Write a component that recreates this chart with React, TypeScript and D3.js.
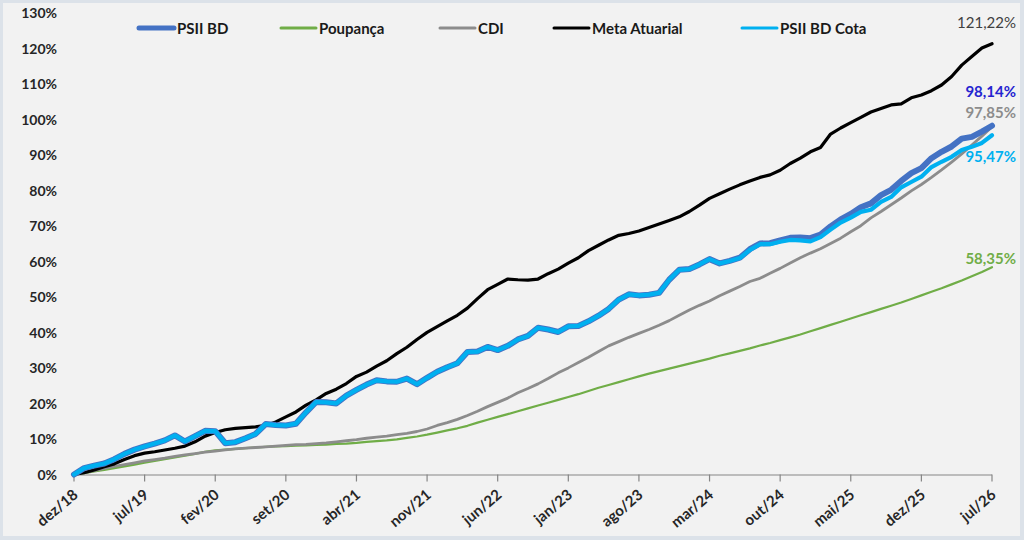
import * as d3 from "d3";
import React from "react";

// monthly accumulated returns (%), dez/18 .. jul/26
const psiiBd = [
  0, 1.8, 2.5, 3.1, 4.3, 5.8, 7.0, 7.9, 8.7, 9.6, 11.0, 9.3, 10.8, 12.3, 12.2, 8.8, 9.1, 10.2, 11.4, 14.2,
  13.9, 13.8, 14.3, 17.5, 20.4, 20.3, 20.0, 22.2, 23.8, 25.3, 26.5, 26.2, 26.1, 27.0, 25.4, 27.2, 28.9, 30.2, 31.3, 34.5,
  34.6, 35.9, 35.0, 36.2, 38.0, 39.0, 41.3, 40.8, 40.1, 41.7, 41.8, 43.1, 44.7, 46.6, 49.2, 50.7, 50.4, 50.6, 51.1, 54.8,
  57.6, 57.8, 59.1, 60.6, 59.4, 60.1, 61.0, 63.4, 65.0, 65.1, 65.9, 66.6, 66.7, 66.5, 67.5, 69.8, 71.8, 73.3, 75.2, 76.3,
  78.6, 80.1, 82.6, 84.8, 86.2, 89.0, 90.8, 92.3, 94.5, 95.0, 96.5, 98.14,
];
const psiiBdCota = [
  0, 1.8, 2.5, 3.1, 4.3, 5.8, 7.0, 7.9, 8.7, 9.6, 11.0, 9.3, 10.8, 12.3, 12.2, 8.8, 9.1, 10.2, 11.4, 14.2,
  13.9, 13.8, 14.3, 17.5, 20.4, 20.3, 20.0, 22.2, 23.8, 25.3, 26.5, 26.2, 26.1, 27.0, 25.4, 27.2, 28.9, 30.2, 31.3, 34.5,
  34.6, 35.9, 35.0, 36.2, 38.0, 39.0, 41.3, 40.8, 40.1, 41.7, 41.8, 43.1, 44.7, 46.6, 49.2, 50.7, 50.4, 50.6, 51.1, 54.8,
  57.6, 57.8, 59.1, 60.6, 59.4, 60.1, 60.9, 63.2, 64.8, 64.8, 65.5, 66.0, 65.9, 65.6, 66.8, 68.9, 70.9, 72.3, 73.9, 74.5,
  76.7, 78.1, 80.8, 82.3, 83.8, 86.5, 88.0, 89.4, 91.3, 92.2, 93.3, 95.47,
];
const poupanca = [
  0, 0.4, 0.9, 1.3, 1.8, 2.3, 2.8, 3.3, 3.8, 4.3, 4.8, 5.3, 5.8, 6.4, 6.8, 7.0, 7.2, 7.4, 7.6, 7.8,
  7.9, 8.0, 8.1, 8.2, 8.3, 8.4, 8.6, 8.7, 8.9, 9.2, 9.4, 9.6, 9.9, 10.3, 10.7, 11.2, 11.8, 12.4, 13.0, 13.7,
  14.6, 15.4, 16.2, 17.0, 17.8, 18.6, 19.4, 20.2, 21.0, 21.8, 22.6, 23.5, 24.4, 25.2, 26.0, 26.8, 27.6, 28.4, 29.1, 29.8,
  30.5, 31.2, 31.9, 32.6, 33.4, 34.1, 34.8, 35.5, 36.3, 37.0, 37.8, 38.6, 39.4, 40.3, 41.2, 42.1, 43.0, 43.9, 44.8, 45.7,
  46.6, 47.5, 48.4, 49.4, 50.4, 51.4, 52.4, 53.5, 54.6, 55.8, 57.0, 58.35,
];
const cdi = [
  0, 0.5, 1.1, 1.7, 2.3, 2.8, 3.3, 3.8, 4.2, 4.6, 5.1, 5.5, 5.9, 6.3, 6.6, 6.9, 7.2, 7.4, 7.6, 7.8,
  8.0, 8.2, 8.4, 8.5, 8.7, 8.9, 9.2, 9.5, 9.8, 10.2, 10.5, 10.8, 11.2, 11.6, 12.1, 12.8, 13.8, 14.6, 15.5, 16.6,
  17.8, 19.1, 20.3, 21.5, 23.0, 24.2, 25.5, 27.0, 28.6, 30.0, 31.5, 33.0, 34.6, 36.2, 37.4, 38.6, 39.7, 40.8, 42.0, 43.3,
  44.8, 46.3, 47.6, 48.8, 50.3, 51.6, 52.9, 54.3, 55.2, 56.6, 58.0, 59.5, 61.0, 62.3, 63.5, 65.0, 66.5, 68.3, 70.0, 72.2,
  74.0, 75.9, 77.8, 79.8, 81.6, 83.6, 85.7, 87.9, 90.2, 92.7, 95.2, 97.85,
];
const metaAtuarial = [
  0, 0.5, 1.3, 2.2, 3.0, 4.2, 5.3, 6.0, 6.4, 6.9, 7.4, 8.0, 9.2, 10.8, 11.8, 12.6, 13.0, 13.2, 13.4, 13.8,
  14.8, 16.2, 17.6, 19.5, 21.0, 22.8, 24.0, 25.6, 27.6, 28.8, 30.5, 32.0, 34.0, 35.8, 38.0, 40.0, 41.6, 43.2, 44.8, 46.8,
  49.5, 52.0, 53.5, 55.0, 54.8, 54.7, 55.0, 56.5, 57.8, 59.5, 61.0, 63.0, 64.5, 66.0, 67.3, 67.8, 68.5, 69.5, 70.5, 71.5,
  72.5, 74.0, 75.8, 77.7, 79.0, 80.3, 81.5, 82.6, 83.6, 84.3, 85.6, 87.5, 89.0, 90.8, 92.0, 95.8, 97.5, 99.0, 100.5, 102.0,
  103.0, 104.0, 104.3, 106.0, 106.8, 108.0, 109.6, 112.0, 115.2, 117.6, 120.0, 121.22,
];

const tickLabels = [
  "dez/18", "jul/19", "fev/20", "set/20", "abr/21", "nov/21", "jun/22",
  "jan/23", "ago/23", "mar/24", "out/24", "mai/25", "dez/25", "jul/26",
];
const yTicks = [0, 10, 20, 30, 40, 50, 60, 70, 80, 90, 100, 110, 120, 130];

const endLabels = [
  { text: "121,22%", color: "#404040", weight: 400, dy: 28 },
  { text: "98,14%", color: "#2424D0", weight: 700, dy: 97 },
  { text: "97,85%", color: "#8C8C8C", weight: 700, dy: 118 },
  { text: "95,47%", color: "#00B0F0", weight: 700, dy: 162 },
  { text: "58,35%", color: "#70AD47", weight: 700, dy: 264 },
];

const series = [
  { name: "Poupança", data: poupanca, color: "#70AD47", width: 2.2 },
  { name: "CDI", data: cdi, color: "#8C8C8C", width: 2.8 },
  { name: "Meta Atuarial", data: metaAtuarial, color: "#000000", width: 3.2 },
  { name: "PSII BD", data: psiiBd, color: "#4472C4", width: 6 },
  { name: "PSII BD Cota", data: psiiBdCota, color: "#00B0F0", width: 4.2 },
];

const legend = [
  { name: "PSII BD", color: "#4472C4", width: 5, x: 139 },
  { name: "Poupança", color: "#70AD47", width: 3, x: 281 },
  { name: "CDI", color: "#8C8C8C", width: 3, x: 440 },
  { name: "Meta Atuarial", color: "#000000", width: 3, x: 554 },
  { name: "PSII BD Cota", color: "#00B0F0", width: 3, x: 742 },
];

const W = 1024, H = 540;
const font = "Lato, 'Open Sans', sans-serif";

export default function App() {
  const n = psiiBd.length;
  const x = d3.scaleLinear().domain([0, n - 1]).range([74, 992]);
  const y = d3.scaleLinear().domain([0, 130]).range([474.5, 12.5]);
  const line = d3.line<number>().x((_, i) => x(i)).y((d) => y(d));
  const axisY = y(0);

  return (
    <div style={{ position: "fixed", left: 0, top: 0 }}>
      <svg width={W} height={H} style={{ display: "block" }}>
        <rect x={0} y={0} width={W} height={H} fill="#DCE2E9" />
        <rect x={3} y={3} width={W - 7} height={H - 7} fill="#F2F2F2" />

        {/* y labels */}
        {yTicks.map((t) => (
          <text key={t} x={57} y={y(t)} textAnchor="end" dominantBaseline="central"
            fontFamily={font} fontWeight={700} fontSize={14} fill="#262626">
            {t}%
          </text>
        ))}

        {/* x axis */}
        <line x1={x(0)} x2={x(n - 1)} y1={axisY + 0.5} y2={axisY + 0.5} stroke="#868686" strokeWidth={1.2} />
        {tickLabels.map((lab, k) => {
          const tx = x(k * 7);
          return (
            <g key={lab}>
              <line x1={tx} x2={tx} y1={axisY} y2={axisY + 7} stroke="#868686" strokeWidth={1.2} />
              <text transform={`translate(${tx + 5},${axisY + 22}) rotate(-40)`} textAnchor="end"
                fontFamily={font} fontWeight={700} fontSize={15} fill="#262626">
                {lab}
              </text>
            </g>
          );
        })}

        {/* series */}
        {series.map((s) => (
          <path key={s.name} d={line(s.data) ?? ""} fill="none" stroke={s.color}
            strokeWidth={s.width} strokeLinejoin="round" strokeLinecap="round" />
        ))}

        {/* end labels */}
        {endLabels.map((l) => (
          <text key={l.text} x={1016} y={l.dy} textAnchor="end" fontFamily={font}
            fontWeight={l.weight} fontSize={15} fill={l.color}>
            {l.text}
          </text>
        ))}

        {/* legend */}
        {legend.map((l) => (
          <g key={l.name}>
            <line x1={l.x} x2={l.x + 35} y1={28} y2={28} stroke={l.color} strokeWidth={l.width} strokeLinecap="round" />
            <text x={l.x + 38} y={28} dominantBaseline="central" fontFamily={font}
              fontWeight={700} fontSize={15} fill="#1a1a1a">
              {l.name}
            </text>
          </g>
        ))}
      </svg>
    </div>
  );
}
